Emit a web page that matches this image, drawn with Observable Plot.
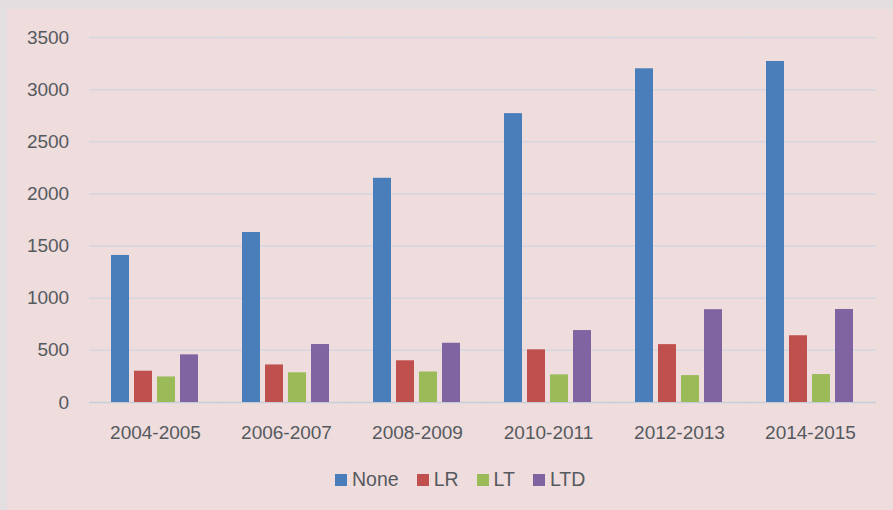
<!DOCTYPE html>
<html>
<head>
<meta charset="utf-8">
<script src="https://cdn.jsdelivr.net/npm/d3@7"></script>
<script src="https://cdn.jsdelivr.net/npm/@observablehq/plot@0.6"></script>
<style>
  html, body { margin: 0; padding: 0; background: #e3dfe0; }
  #frame { position: absolute; left: 7px; top: 9px; width: 886px; height: 501px; background: #efdcdd; font-family: "Liberation Sans", Arial, sans-serif; }
  #legend { display: flex; align-items: center; padding-left: 328px; margin-top: 19px; font-size: 19.5px; color: #555a5e; }
  .item { display: flex; align-items: center; margin-right: 18px; }
  .sw { width: 12px; height: 12px; margin-right: 5px; }
</style>
</head>
<body>
<div id="frame"><div id="chart"></div><div id="legend"></div></div>
<script>
const groups = ["2004-2005", "2006-2007", "2008-2009", "2010-2011", "2012-2013", "2014-2015"];
const series = ["None", "LR", "LT", "LTD"];
const noneValues = [1410, 1630, 2150, 2770, 3200, 3270];
const lrValues   = [300, 360, 400, 505, 555, 640];
const ltValues   = [245, 285, 292, 265, 258, 268];
const ltdValues  = [457, 556, 568, 690, 890, 892];
const colors = ["#4a7ebb", "#c0504d", "#9bbb59", "#8064a2"];
const yTicks = [0, 500, 1000, 1500, 2000, 2500, 3000, 3500];

const valuesBySeries = [noneValues, lrValues, ltValues, ltdValues];
const data = [];
groups.forEach((g, i) => series.forEach((s, j) => data.push({group: g, series: s, value: valuesBySeries[j][i]})));

const W = 886, ML = 82, MR = 17;
const fxPad = 0.31;
const halfGap = ((W - ML - MR) / groups.length) * fxPad / 2;
// extend each facet's gridline across half of the gap so lines are continuous
const gridInset = -halfGap - 0.5;

const chart = Plot.plot({
  width: W,
  height: 440,
  marginLeft: ML,
  marginRight: MR,
  marginTop: 28,
  marginBottom: 47,
  style: {background: "transparent", fontFamily: "'Liberation Sans', Arial, sans-serif", fontSize: "19px", color: "#555a5e"},
  fx: {domain: groups, paddingInner: fxPad, paddingOuter: fxPad / 2, label: null, tickSize: 0, tickPadding: 23},
  x: {domain: series, paddingInner: 0.2, paddingOuter: 0, axis: null},
  y: {domain: [0, 3500], ticks: yTicks, tickFormat: "d", tickSize: 0, tickPadding: 21 + halfGap, label: null},
  color: {domain: series, range: colors},
  marks: [
    Plot.ruleY(yTicks.filter(d => d > 0), {stroke: "#d4d6e0", strokeWidth: 1.5, insetLeft: gridInset, insetRight: gridInset}),
    Plot.ruleY([0], {stroke: "#c5cdd9", strokeWidth: 1.5, insetLeft: gridInset, insetRight: gridInset}),
    Plot.barY(data, {fx: "group", x: "series", y: "value", fill: "series"})
  ]
});
document.getElementById("chart").appendChild(chart);

const legend = document.getElementById("legend");
series.forEach((s, i) => {
  const item = document.createElement("div");
  item.className = "item";
  const sw = document.createElement("div");
  sw.className = "sw";
  sw.style.background = colors[i];
  const label = document.createElement("span");
  label.textContent = s;
  item.appendChild(sw);
  item.appendChild(label);
  legend.appendChild(item);
});
</script>
</body>
</html>
